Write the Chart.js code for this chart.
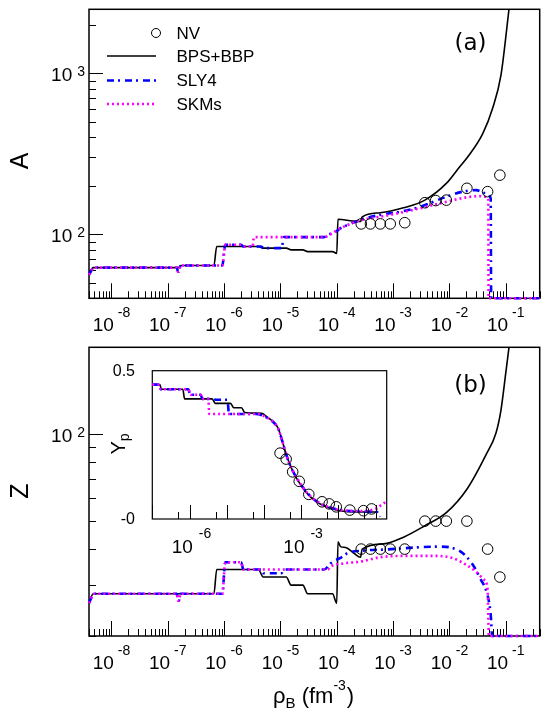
<!DOCTYPE html>
<html>
<head>
<meta charset="utf-8">
<title>A, Z and Yp versus baryon density</title>
<script src="https://cdn.jsdelivr.net/npm/chart.js@4.4.1/dist/chart.umd.min.js"></script>
<style>
  html, body { margin: 0; padding: 0; background: #fff; }
  #fig { position: relative; width: 546px; height: 711px; overflow: hidden; background: #fff; }
  #fig canvas { position: absolute; left: 0; top: 0; }
</style>
</head>
<body>
<div id="fig">
  <canvas id="panelA" width="546" height="711"></canvas>
  <canvas id="panelB" width="546" height="711"></canvas>
  <canvas id="panelYp" width="546" height="711"></canvas>
</div>
<script>
// --- data, densities in fm^-3 ---
const nvRho = [2.72e-4, 3.96e-4, 5.93e-4, 8.9e-4, 1.61e-3, 3.66e-3, 5.7e-3, 8.8e-3, 2.04e-2, 4.76e-2, 7.85e-2];
const nvA   = [116, 116, 116, 116, 118, 157, 162, 163, 193, 184, 233];
const nvZ   = [40, 40, 40, 40, 40, 50, 50, 50, 50, 40, 32];
const nvYp  = [0.222, 0.202, 0.159, 0.127, 0.083, 0.058, 0.051, 0.041, 0.030, 0.028, 0.034];

// BPS+BBP
const bpsRhoA = [4.0e-9, 4.75e-9, 1.6e-7, 1.7e-7, 6.6e-7, 7.4e-7, 4.05e-6, 4.95e-6, 1.27e-5, 1.55e-5,
                 2.5e-5, 3.05e-5, 8.4e-5, 1.0e-4, 1.05e-4, 1.9e-4, 2.64e-4, 2.83e-4, 5.9e-4, 1.53e-3,
                 3.66e-3, 8.8e-3, 1.51e-2, 2.12e-2, 3.9e-2, 5.8e-2, 8.2e-2, 0.114];
const bpsA    = [57, 62, 62, 64, 64, 84, 84, 82, 82, 80,
                 80, 78, 78, 76, 124, 121, 120, 128, 136, 146,
                 163, 207, 262, 303, 422, 603, 970, 2500];
const bpsRhoZ = [4.0e-9, 4.75e-9, 6.6e-7, 7.4e-7, 4.05e-6, 4.95e-6, 1.27e-5, 1.55e-5, 2.5e-5, 3.05e-5,
                 8.4e-5, 1.0e-4, 1.05e-4, 1.17e-4, 1.44e-4, 2.02e-4, 2.64e-4, 2.83e-4, 6.8e-4, 1.53e-3,
                 3.66e-3, 8.8e-3, 2.04e-2, 4.47e-2, 6.7e-2, 8.2e-2, 0.1, 0.114];
const bpsZ    = [26, 28, 28, 34, 34, 32, 32, 30, 30, 28,
                 28, 26, 42.4, 40.8, 40.5, 38.7, 37.5, 40, 41.7, 44,
                 48.2, 53.5, 64.5, 85, 101, 121, 163, 200];

// SLY4
const sly4RhoA = [4.0e-9, 4.9e-9, 1.45e-7, 1.52e-7, 1.58e-7, 1.68e-7, 9.3e-7, 1.05e-6, 2.0e-6, 2.2e-6,
                  4.5e-6, 5.0e-6, 1.05e-5, 1.15e-5, 5.97e-5, 7.3e-5, 8.95e-5, 1.17e-4, 1.54e-4, 2.83e-4,
                  5.93e-4, 1.33e-3, 2.99e-3, 8.8e-3, 1.73e-2, 2.96e-2, 4.44e-2, 5.4e-2, 5.5e-2, 0.4];
const sly4A    = [56, 62, 62, 58.5, 58.5, 64, 64, 86, 86, 84,
                  84, 82, 82, 96, 96, 100, 102, 109, 114, 124,
                  132, 138, 148, 171, 184, 188, 180, 167, 40, 40];
const sly4RhoZ = [4.0e-9, 4.9e-9, 1.45e-7, 1.52e-7, 1.58e-7, 1.68e-7, 9.3e-7, 1.05e-6, 2.0e-6, 2.2e-6,
                  4.5e-6, 5.0e-6, 1.05e-5, 1.15e-5, 5.97e-5, 7.8e-5, 1.33e-4, 1.54e-4, 2.83e-4, 7.8e-4,
                  2.99e-3, 6.7e-3, 1.16e-2, 1.73e-2, 2.6e-2, 3.63e-2, 4.44e-2, 4.95e-2, 5.44e-2, 5.6e-2,
                  5.7e-2, 0.4];
const sly4Z    = [26, 28, 28, 26.5, 26.5, 28, 28, 36, 36, 34,
                  34, 33, 33, 34, 34, 35.7, 37.9, 38.7, 39.5, 39.9,
                  40.6, 40.8, 40.3, 38.7, 35.3, 31.3, 28.9, 26.7, 23.3, 21,
                  20, 20];

// SKMs
const skmsRhoA = [4.0e-9, 4.9e-9, 1.45e-7, 1.52e-7, 1.58e-7, 1.68e-7, 9.3e-7, 1.05e-6, 2.0e-6, 2.2e-6,
                  3.2e-6, 3.4e-6, 5.97e-5, 7.8e-5, 1.17e-4, 1.54e-4, 2.83e-4, 5.93e-4, 1.33e-3, 2.99e-3,
                  8.8e-3, 1.98e-2, 3.4e-2, 4.44e-2, 4.9e-2, 4.95e-2, 0.4];
const skmsA    = [56, 62, 62, 58.5, 58.5, 64, 64, 86, 86, 84,
                  84, 96, 96, 100, 109, 114, 123, 128.5, 136, 145,
                  159, 169.5, 172.6, 171, 163, 40, 40];
const skmsRhoZ = [4.0e-9, 4.9e-9, 1.45e-7, 1.52e-7, 1.58e-7, 1.68e-7, 9.3e-7, 1.05e-6, 2.0e-6, 2.2e-6,
                  6.9e-5, 7.8e-5, 1.33e-4, 2.64e-4, 5.93e-4, 1.75e-3, 5.1e-3, 1.16e-2, 1.98e-2, 2.96e-2,
                  4.15e-2, 4.76e-2, 4.9e-2, 5.0e-2, 0.4];
const skmsZ    = [26, 28, 28, 26.5, 26.5, 28, 28, 36, 36, 34,
                  34, 34.8, 35.7, 36.2, 37.5, 37.9, 37.9, 37.2, 35.3, 33.4,
                  31.3, 28.9, 23.3, 20, 20];

// inset: proton fraction Yp
const bpsRhoYp = [1e-7, 1.6e-7, 1.75e-7, 6.6e-7, 7.4e-7, 4.05e-6, 4.95e-6, 1.27e-5, 1.55e-5, 2.5e-5,
                  3.05e-5, 8.7e-5, 1.18e-4, 1.78e-4, 2.42e-4, 2.98e-4, 3.66e-4, 4.49e-4, 6.1e-4, 9.2e-4,
                  1.39e-3, 2.59e-3, 4.8e-3, 1.09e-2, 3.05e-2, 0.12];
const bpsYp    = [0.453, 0.453, 0.4375, 0.4375, 0.405, 0.405, 0.39, 0.39, 0.375, 0.375,
                  0.359, 0.356, 0.345, 0.328, 0.306, 0.272, 0.233, 0.199, 0.159, 0.120,
                  0.089, 0.058, 0.0415, 0.028, 0.0236, 0.0236];
const sly4RhoYp = [1e-7, 1.45e-7, 1.52e-7, 1.58e-7, 1.68e-7, 9.3e-7, 1.05e-6, 2.0e-6, 2.2e-6, 4.5e-6,
                   5.0e-6, 1.05e-5, 1.15e-5, 5.97e-5, 8.95e-5, 1.17e-4, 1.78e-4, 2.42e-4, 2.98e-4, 3.66e-4,
                   4.49e-4, 6.1e-4, 9.2e-4, 1.39e-3, 2.59e-3, 4.8e-3, 1.09e-2, 3.05e-2, 8e-2, 0.12, 0.135];
const sly4Yp    = [0.453, 0.453, 0.448, 0.448, 0.4375, 0.4375, 0.419, 0.419, 0.405, 0.405,
                   0.402, 0.402, 0.354, 0.354, 0.35, 0.343, 0.327, 0.305, 0.271, 0.232,
                   0.198, 0.16, 0.122, 0.091, 0.06, 0.043, 0.031, 0.026, 0.025, 0.022, 0.008];
const skmsRhoYp = [1e-7, 1.45e-7, 1.52e-7, 1.58e-7, 1.68e-7, 9.3e-7, 1.05e-6, 2.0e-6, 2.2e-6, 3.2e-6,
                   3.4e-6, 6.9e-5, 9e-5, 1.17e-4, 1.78e-4, 2.42e-4, 2.98e-4, 3.66e-4, 4.49e-4, 6.1e-4,
                   9.2e-4, 1.39e-3, 2.59e-3, 4.8e-3, 1.09e-2, 3.05e-2, 6e-2, 0.105, 0.143, 0.19];
const skmsYp    = [0.453, 0.453, 0.448, 0.448, 0.4375, 0.4375, 0.419, 0.419, 0.405, 0.405,
                   0.354, 0.354, 0.35, 0.343, 0.327, 0.305, 0.271, 0.232, 0.198, 0.16,
                   0.122, 0.091, 0.06, 0.043, 0.031, 0.027, 0.028, 0.036, 0.047, 0.058];

// axis ranges and labelled ticks
const rhoMin = 4e-9, rhoMax = 0.4;
const aMin = 40, aMax = 2500;
const zMin = 20, zMax = 200;
const ypRhoMin = 1e-7, ypRhoMax = 0.2;
const ypMin = 0, ypMax = 0.5;
const rhoLabelExps = [-8, -7, -6, -5, -4, -3, -2, -1];
const aLabelExps = [2, 3];
const zLabelExps = [2];
const ypRhoLabelExps = [-6, -3];
const ypLabels = [[0.5, '0.5'], [0, '-0']];

// --- styles ---
const FONT = '"Liberation Sans", Arial, Helvetica, sans-serif';
const INK = '#000';
const styles = {
  nv:   { showLine: false, pointRadius: 5.3, pointBorderWidth: 1, pointBorderColor: INK, pointBackgroundColor: 'rgba(0,0,0,0)' },
  bps:  { borderColor: INK, borderWidth: 1.6 },
  sly4: { borderColor: '#0000ff', borderWidth: 2.6, borderDash: [7, 4, 2, 5] },
  skms: { borderColor: '#ff00ff', borderWidth: 2.6, borderDash: [2, 3] }
};

const pts = (xs, ys) => xs.map((x, i) => ({ x, y: ys[i] }));
const lineSet = (label, xs, ys, style) => Object.assign({
  label, data: pts(xs, ys), showLine: true, pointRadius: 0,
  cubicInterpolationMode: 'monotone', fill: false, clip: 3
}, style);
const markSet = (label, xs, ys) => Object.assign({ label, data: pts(xs, ys), clip: 6 }, styles.nv);

// --- drawing helpers ---
function logTicks(min, max, mantissas) {
  const out = [];
  for (let e = Math.floor(Math.log10(min)) - 1; e <= Math.ceil(Math.log10(max)); e++) {
    for (const m of mantissas) {
      const v = m * Math.pow(10, e);
      if (v >= min * 0.999 && v <= max * 1.001) out.push({ v, major: m === 1 });
    }
  }
  return out;
}

function frame(ctx, a, lw) {
  ctx.save();
  ctx.strokeStyle = INK;
  ctx.lineWidth = lw;
  ctx.strokeRect(a.left, a.top, a.right - a.left, a.bottom - a.top);
  ctx.restore();
}

function xTicks(ctx, scale, a, ticks, majLen, minLen) {
  ctx.save();
  ctx.strokeStyle = INK; ctx.lineWidth = 1;
  ctx.beginPath();
  ticks.forEach(t => {
    const x = Math.round(scale.getPixelForValue(t.v)) + 0.5;
    ctx.moveTo(x, a.bottom);
    ctx.lineTo(x, a.bottom - (t.major ? majLen : minLen));
  });
  ctx.stroke();
  ctx.restore();
}

function yTicks(ctx, scale, a, ticks, majLen, minLen) {
  ctx.save();
  ctx.strokeStyle = INK; ctx.lineWidth = 1;
  ctx.beginPath();
  ticks.forEach(t => {
    const y = Math.round(scale.getPixelForValue(t.v)) + 0.5;
    ctx.moveTo(a.left, y);
    ctx.lineTo(a.left + (t.major ? majLen : minLen), y);
  });
  ctx.stroke();
  ctx.restore();
}

// "10" with a raised exponent, centred on cx
function powCentered(ctx, cx, base, exp, big, small, rise, gap) {
  ctx.save();
  ctx.fillStyle = INK; ctx.textAlign = 'left'; ctx.textBaseline = 'alphabetic';
  ctx.font = big + 'px ' + FONT;
  const w1 = ctx.measureText('10').width;
  ctx.font = small + 'px ' + FONT;
  const w2 = ctx.measureText(exp).width;
  const x0 = cx - (w1 + gap + w2) / 2;
  ctx.font = big + 'px ' + FONT;
  ctx.fillText('10', x0, base);
  ctx.font = small + 'px ' + FONT;
  ctx.fillText(exp, x0 + w1 + gap, base - rise);
  ctx.restore();
}

// "10" with exponent, right-aligned at xr (y axis labels)
function powRight(ctx, xr, yc, exp) {
  ctx.save();
  ctx.fillStyle = INK; ctx.textBaseline = 'alphabetic'; ctx.textAlign = 'right';
  ctx.font = '14px ' + FONT;
  ctx.fillText(exp, xr, yc + 3);
  const w2 = ctx.measureText(exp).width;
  ctx.font = '19px ' + FONT;
  ctx.fillText('10', xr - w2 - 5, yc + 8);
  ctx.restore();
}

function rotatedText(ctx, parts, cx, cy) {
  // parts: [text, sizePx, shiftAlongBaselineNormal]
  ctx.save();
  ctx.translate(cx, cy);
  ctx.rotate(-Math.PI / 2);
  ctx.fillStyle = INK; ctx.textBaseline = 'middle'; ctx.textAlign = 'left';
  let total = 0;
  parts.forEach(p => { ctx.font = p[1] + 'px ' + FONT; total += ctx.measureText(p[0]).width; });
  let x = -total / 2;
  parts.forEach(p => {
    ctx.font = p[1] + 'px ' + FONT;
    ctx.fillText(p[0], x, p[2]);
    x += ctx.measureText(p[0]).width;
  });
  ctx.restore();
}

function mainAxes(ctx, chart, yMinV, yMaxV, yExps) {
  const a = chart.chartArea;
  const xs = chart.scales.x, ys = chart.scales.y;
  frame(ctx, a, 1.5);
  xTicks(ctx, xs, a, logTicks(rhoMin, rhoMax, [1, 2, 3, 4, 5, 6, 7, 8, 9]), 15, 7);
  yTicks(ctx, ys, a, logTicks(yMinV, yMaxV, [1, 2, 3, 4, 5, 6, 7, 8, 9]), 14, 7);
  rhoLabelExps.forEach(e => powCentered(ctx, xs.getPixelForValue(Math.pow(10, e)), a.bottom + 33, String(e), 19, 14, 14, 4));
  yExps.forEach(e => powRight(ctx, 85, ys.getPixelForValue(Math.pow(10, e)), String(e)));
}

const baseOptions = (pad, xr, yr, yType) => ({
  responsive: false,
  animation: false,
  devicePixelRatio: 1,
  events: [],
  layout: { padding: pad },
  plugins: { legend: { display: false }, tooltip: { enabled: false } },
  scales: {
    x: { type: 'logarithmic', min: xr[0], max: xr[1], bounds: 'data', display: false },
    y: { type: yType, min: yr[0], max: yr[1], bounds: 'data', display: false }
  }
});

// --- panel (a): A ---
new Chart(document.getElementById('panelA'), {
  type: 'scatter',
  data: {
    datasets: [
      markSet('NV', nvRho, nvA),
      lineSet('SKMs', skmsRhoA, skmsA, styles.skms),
      lineSet('SLY4', sly4RhoA, sly4A, styles.sly4),
      lineSet('BPS+BBP', bpsRhoA, bpsA, styles.bps)
    ]
  },
  options: baseOptions({ left: 89, right: 1.7, top: 9.3, bottom: 412.7 }, [rhoMin, rhoMax], [aMin, aMax], 'logarithmic'),
  plugins: [{
    id: 'axesA',
    beforeDatasetsDraw(chart) { mainAxes(chart.ctx, chart, aMin, aMax, aLabelExps); },
    afterDraw(chart) {
      const ctx = chart.ctx;
      rotatedText(ctx, [['A', 25, 0]], 21, 161);
      ctx.save();
      ctx.fillStyle = INK; ctx.textAlign = 'center'; ctx.textBaseline = 'middle';
      ctx.font = '23px "DejaVu Sans", sans-serif';
      ctx.fillText('(a)', 470.5, 44);
      // legend
      const rows = [['NV', styles.nv, 33], ['BPS+BBP', styles.bps, 56], ['SLY4', styles.sly4, 80.5], ['SKMs', styles.skms, 104]];
      ctx.textAlign = 'left';
      ctx.font = '17px ' + FONT;
      rows.forEach(([txt, st, y]) => {
        if (st.showLine === false) {
          ctx.beginPath(); ctx.lineWidth = 1; ctx.strokeStyle = INK;
          ctx.arc(156, y, 4.5, 0, Math.PI * 2); ctx.stroke();
        } else {
          ctx.beginPath(); ctx.lineWidth = st.borderWidth; ctx.strokeStyle = st.borderColor;
          ctx.setLineDash(st.borderDash || []);
          ctx.moveTo(107, y); ctx.lineTo(156, y); ctx.stroke();
          ctx.setLineDash([]);
        }
        ctx.fillText(txt, 176.5, y + 1);
      });
      ctx.restore();
    }
  }]
});

// --- panel (b): Z ---
new Chart(document.getElementById('panelB'), {
  type: 'scatter',
  data: {
    datasets: [
      markSet('NV', nvRho, nvZ),
      lineSet('SKMs', skmsRhoZ, skmsZ, styles.skms),
      lineSet('SLY4', sly4RhoZ, sly4Z, styles.sly4),
      lineSet('BPS+BBP', bpsRhoZ, bpsZ, styles.bps)
    ]
  },
  options: baseOptions({ left: 89, right: 1.7, top: 347.3, bottom: 75 }, [rhoMin, rhoMax], [zMin, zMax], 'logarithmic'),
  plugins: [{
    id: 'axesB',
    beforeDatasetsDraw(chart) { mainAxes(chart.ctx, chart, zMin, zMax, zLabelExps); },
    afterDraw(chart) {
      const ctx = chart.ctx;
      rotatedText(ctx, [['Z', 25, 0]], 21, 491);
      ctx.save();
      ctx.fillStyle = INK; ctx.textAlign = 'center'; ctx.textBaseline = 'middle';
      ctx.font = '23px "DejaVu Sans", sans-serif';
      ctx.fillText('(b)', 470.5, 386);
      // x title: rho_B (fm^-3)
      ctx.textAlign = 'left'; ctx.textBaseline = 'alphabetic';
      const segs = [['\u03C1', 22, 0], ['B', 15, 5], [' (fm', 22, 0], ['-3', 14, -13], [')', 22, 0]];
      let x = 273;
      segs.forEach(([t, s, dy]) => {
        ctx.font = s + 'px ' + FONT;
        ctx.fillText(t, x, 703 + dy);
        x += ctx.measureText(t).width + (t === '-3' ? 1 : 0);
      });
      ctx.restore();
    }
  }]
});

// --- inset: Yp ---
new Chart(document.getElementById('panelYp'), {
  type: 'scatter',
  data: {
    datasets: [
      markSet('NV', nvRho, nvYp),
      lineSet('SKMs', skmsRhoYp, skmsYp, styles.skms),
      lineSet('SLY4', sly4RhoYp, sly4Yp, styles.sly4),
      lineSet('BPS+BBP', bpsRhoYp, bpsYp, styles.bps)
    ]
  },
  options: baseOptions({ left: 152.3, right: 159.3, top: 370.7, bottom: 192 }, [ypRhoMin, ypRhoMax], [ypMin, ypMax], 'linear'),
  plugins: [{
    id: 'axesYp',
    beforeDatasetsDraw(chart) {
      const ctx = chart.ctx, a = chart.chartArea, xs = chart.scales.x, ys = chart.scales.y;
      ctx.save();
      ctx.fillStyle = '#fff';
      ctx.fillRect(a.left, a.top, a.right - a.left, a.bottom - a.top);
      ctx.restore();
      frame(ctx, a, 1.2);
      xTicks(ctx, xs, a, logTicks(ypRhoMin, ypRhoMax, [1, 5]), 14, 7);
      ypRhoLabelExps.forEach(e => powCentered(ctx, xs.getPixelForValue(Math.pow(10, e)) + 2, a.bottom + 34, String(e), 19, 14, 15, 6));
      ctx.save();
      ctx.fillStyle = INK; ctx.textAlign = 'right'; ctx.textBaseline = 'middle';
      ctx.font = '16px ' + FONT;
      ypLabels.forEach(([v, t]) => ctx.fillText(t, 135, ys.getPixelForValue(v) + 1));
      ctx.restore();
      rotatedText(ctx, [['Y', 20, 0], ['p', 14, 6]], 119, 444);
    }
  }]
});
</script>
</body>
</html>
